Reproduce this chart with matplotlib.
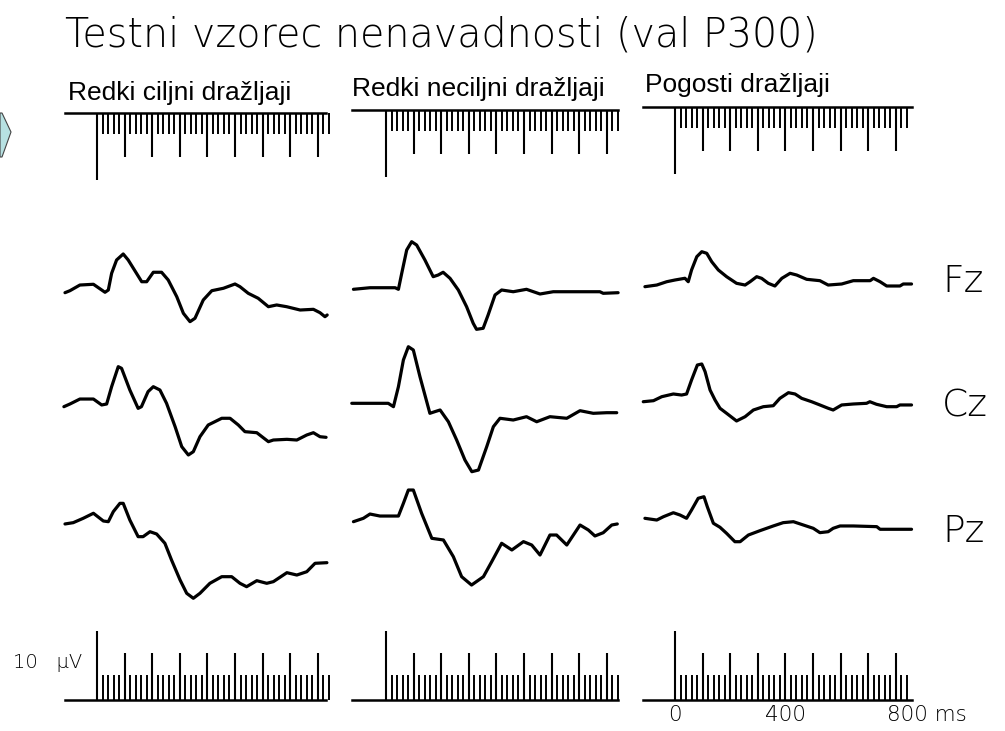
import numpy as np
import matplotlib
matplotlib.use("Agg")
import matplotlib.pyplot as plt
from matplotlib.patches import Polygon

W, H = 1005, 731

title = "Testni vzorec nenavadnosti (val P300)"
columns = ["Redki ciljni dražljaji", "Redki neciljni dražljaji", "Pogosti dražljaji"]
electrodes = ["Fz", "Cz", "Pz"]

# averaged ERP traces, time in ms after stimulus, amplitude in uV
target_fz_t = [-116, -98, -62, -13, 29, 41, 53, 71, 95, 113, 162, 180, 204, 234, 258, 289, 313, 337,
               355, 385, 416, 458, 500, 518, 548, 584, 621, 651, 687, 736, 784, 808, 826, 834]
target_fz_v = [-0.39, -0.1, 0.72, 0.83, -0.33, 0, 2.42, 4.35, 5.22, 4.35, 1.2, 1.2, 2.57, 2.57, 1.45,
               -0.97, -3.38, -4.59, -4.1, -1.45, -0.1, 0.25, 0.87, 0.48, -0.48, -1.2, -2.42, -2.17,
               -2.42, -2.9, -2.8, -3.29, -3.87, -3.62]
target_cz_t = [-120, -98, -62, -13, 17, 35, 53, 77, 89, 119, 149, 161, 185, 204, 228, 252, 283, 307,
               331, 349, 373, 403, 452, 482, 512, 536, 579, 621, 639, 688, 724, 760, 784, 808, 830]
target_cz_v = [-0.39, 0, 0.72, 0.72, -0.14, 0, 2.51, 5.41, 5.17, 2.03, -0.63, -0.39, 1.79, 2.51, 2.03,
               0.1, -3.29, -6.18, -7.39, -6.91, -4.74, -3.04, -2.07, -2.07, -3.04, -4.01, -4.16,
               -5.46, -5.22, -5.12, -5.22, -4.49, -4.16, -4.74, -4.83]
target_pz_t = [-116, -86, -50, -13, 23, 41, 59, 83, 95, 119, 149, 167, 192, 216, 246, 270, 301, 325,
               349, 373, 409, 452, 488, 518, 542, 579, 615, 639, 688, 724, 760, 790, 833]
target_pz_v = [-0.43, -0.24, 0.39, 1.12, 0, -0.1, 1.35, 2.56, 2.56, 0.14, -2.27, -2.27, -1.55, -1.88,
               -3.23, -5.65, -8.55, -10.48, -11.2, -10.48, -9.03, -8.07, -8.07, -9.03, -9.52, -8.65,
               -9.03, -8.79, -7.49, -7.83, -7.35, -6.13, -6.04]

novel_fz_t = [-118, -58, 33, 45, 57, 75, 93, 111, 141, 171, 189, 207, 232, 262, 292, 316, 328, 352,
              370, 395, 419, 461, 509, 558, 606, 678, 775, 787, 841]
novel_fz_v = [0.1, 0.33, 0.33, 0.1, 2.42, 5.8, 7.0, 6.52, 4.35, 1.93, 2.17, 2.57, 1.69, 0, -2.42,
              -4.83, -5.7, -5.55, -3.62, -0.72, 0, -0.25, 0.1, -0.58, -0.25, -0.25, -0.25, -0.48, -0.39]
novel_cz_t = [-124, 8, 27, 45, 63, 81, 99, 123, 159, 177, 196, 226, 256, 286, 311, 335, 365, 389,
              413, 461, 509, 546, 594, 655, 703, 751, 800, 836]
novel_cz_v = [0.1, 0.1, -0.39, 2.51, 6.38, 8.3, 7.83, 3.96, -1.35, -1.11, -0.87, -2.57, -5.22, -8.12,
              -9.81, -9.57, -6.18, -3.29, -2.07, -2.32, -1.84, -2.57, -1.84, -2.07, -0.97, -1.35,
              -1.26, -1.26]
novel_pz_t = [-118, -82, -58, -22, 45, 63, 81, 99, 129, 166, 208, 244, 274, 310, 353, 383, 419, 456,
              498, 528, 558, 594, 618, 655, 703, 733, 757, 787, 818, 838]
novel_pz_v = [-0.1, 0.39, 1.01, 0.72, 0.72, 2.56, 4.49, 4.49, 1.12, -2.51, -2.75, -5.17, -8.07, -9.28,
              -8.07, -5.9, -3.23, -4.2, -2.99, -3.48, -4.93, -2.03, -2.03, -3.48, -0.58, -1.3, -2.17,
              -1.7, -0.58, -0.43]

frequent_fz_t = [-109, -66, -30, 0, 36, 48, 60, 79, 97, 115, 133, 157, 187, 223, 254, 272, 296, 314,
                 338, 362, 387, 417, 441, 477, 525, 555, 604, 646, 707, 719, 743, 767, 815, 827, 857]
frequent_fz_v = [0.48, 0.72, 1.2, 1.45, 1.7, 1.2, 2.9, 4.83, 5.55, 5.32, 4.1, 2.9, 1.93, 0.97, 0.72,
                 1.2, 1.93, 1.69, 0.97, 0.58, 1.69, 2.42, 2.17, 1.55, 1.35, 0.72, 0.87, 1.35, 1.35,
                 1.69, 1.2, 0.58, 0.58, 0.87, 0.87]
frequent_cz_t = [-115, -78, -48, -6, 24, 42, 60, 81, 97, 109, 127, 145, 163, 187, 223, 254, 284, 320,
                 356, 380, 411, 435, 459, 495, 525, 555, 573, 604, 646, 694, 706, 730, 767, 803, 815, 857]
frequent_cz_v = [0.33, 0.48, 1.06, 1.45, 1.3, 1.45, 3.48, 5.65, 5.8, 4.69, 2.03, 0.58, -0.62, -1.35,
                 -2.46, -1.84, -0.87, -0.39, -0.25, 0.82, 1.64, 1.45, 0.82, 0.33, -0.14, -0.62, -0.87,
                 -0.14, 0, 0.1, 0.33, -0.04, -0.39, -0.39, -0.14, -0.14]
frequent_pz_t = [-109, -66, -42, -6, 18, 42, 60, 84, 105, 117, 139, 163, 187, 217, 236, 266, 308, 356,
                 392, 429, 465, 501, 525, 555, 573, 598, 646, 731, 743, 857]
frequent_pz_v = [0.39, 0.14, 0.62, 1.2, 0.87, 0.39, 1.59, 3.29, 3.52, 2.07, -0.33, -0.91, -1.79, -3.0,
                 -3.0, -2.03, -1.4, -0.72, -0.24, -0.1, -0.58, -1.06, -1.69, -1.55, -1.06, -0.72,
                 -0.72, -0.82, -1.2, -1.2]

traces = [
    [(target_fz_t, target_fz_v), (target_cz_t, target_cz_v), (target_pz_t, target_pz_v)],
    [(novel_fz_t, novel_fz_v), (novel_cz_t, novel_cz_v), (novel_pz_t, novel_pz_v)],
    [(frequent_fz_t, frequent_fz_v), (frequent_cz_t, frequent_cz_v), (frequent_pz_t, frequent_pz_v)],
]

# time scale marks (ms) and amplitude calibration (uV)
fine_ticks = list(range(20, 841, 20))
ms100_ticks = list(range(100, 801, 100))
calib_uv = 10
line_start_ms = [-116, -123, -116]
line_end_ms = [828, 840, 860]
time_labels = [0, 400]

# layout (pixels of the 1005x731 picture)
PX_PER_MS = 0.276
PX_PER_UV = 6.9
ZERO_X = [97, 386, 675]
SCALE_Y = 700
TOP_Y = [113, 110, 107]
ROW_Y = [290, 404, 521]

GEO = ["DejaVu Sans"]
ARIAL = ["Liberation Sans", "DejaVu Sans"]


def fx(px):
    return px / W


def fy(py):
    return 1 - py / H


fig = plt.figure(figsize=(W / 100, H / 100), dpi=100)
fig.patch.set_facecolor("white")

for c in range(3):
    ax = fig.add_axes([0, 0, 1, 1])
    ax.set_xlim(-ZERO_X[c] / PX_PER_MS, (W - ZERO_X[c]) / PX_PER_MS)
    ax.set_ylim(-(H - SCALE_Y) / PX_PER_UV, SCALE_Y / PX_PER_UV)
    ax.axis("off")
    ax.patch.set_alpha(0)

    for r in range(3):
        t, v = traces[c][r]
        off = (SCALE_Y - ROW_Y[r]) / PX_PER_UV
        ax.plot(t, np.array(v) + off, color="black", lw=2.3,
                solid_joinstyle="round", solid_capstyle="round")

    # stimulus marker on top
    top = (SCALE_Y - TOP_Y[c]) / PX_PER_UV
    ax.plot([line_start_ms[c], line_end_ms[c]], [top, top], color="black", lw=1.8)
    ax.vlines(fine_ticks, top - 3.0, top, color="black", lw=1.4)
    ax.vlines(ms100_ticks, top - 6.4, top, color="black", lw=1.5)
    ax.vlines([0], top - 9.7, top, color="black", lw=1.5)

    # time / amplitude scale at the bottom
    ax.plot([line_start_ms[c], line_end_ms[c]], [0, 0], color="black", lw=1.8)
    ax.vlines(fine_ticks, 0, 3.6, color="black", lw=1.4)
    ax.vlines(ms100_ticks, 0, 6.8, color="black", lw=1.5)
    ax.vlines([0], 0, calib_uv, color="black", lw=1.5)

    fig.text(fx([68, 352, 645][c]), fy([93, 89, 85][c]), columns[c],
             family=ARIAL, fontsize=19, ha="left", va="center")

    if c == 2:
        for ms in time_labels:
            ax.text(ms, -2.2, str(ms), family=GEO, fontsize=15.5, fontweight=200,
                    ha="center", va="center")
        ax.text(768, -2.2, "800 ms", family=GEO, fontsize=15.5, fontweight=200,
                ha="left", va="center")

fig.text(fx(65), fy(35), title, family=GEO, fontsize=28.5, fontweight=200,
         ha="left", va="center")

for name, py in zip(electrodes, [282, 406, 531]):
    fig.text(fx(942), fy(py), name, family=GEO, fontsize=27, fontweight=200,
             ha="left", va="center")

fig.text(fx(13), fy(663), "10   µV", family=GEO, fontsize=14, fontweight=200,
         ha="left", va="center")

# light chevron cut off at the left edge
chevron = [(0, 113), (2, 113), (11, 132), (2, 157), (0, 157)]
fig.patches.append(Polygon([(fx(x), fy(y)) for x, y in chevron], closed=True,
                           transform=fig.transFigure, facecolor="#b7e1e2",
                           edgecolor="#444444", lw=0.8))

fig.savefig("out.png", dpi=100)
